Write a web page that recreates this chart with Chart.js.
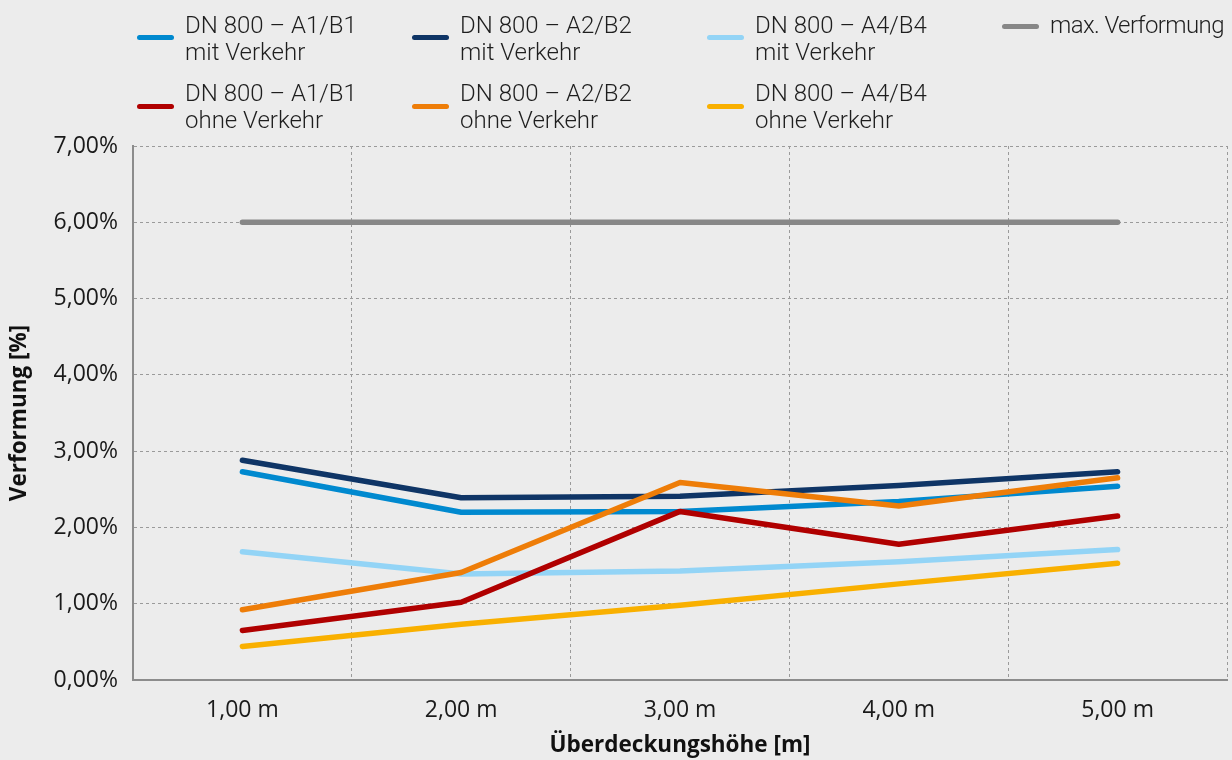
<!DOCTYPE html>
<html lang="de">
<head>
<meta charset="utf-8">
<title>Verformung DN 800</title>
<script src="https://cdn.jsdelivr.net/npm/chart.js@4.4.1/dist/chart.umd.min.js"></script>
<style>
  html, body { margin: 0; padding: 0; background: #ececec; }
  #wrap { position: relative; width: 1232px; height: 760px; overflow: hidden; background: #ececec; }
  #chart { position: absolute; left: 0; top: 0; }
  .lg-item { position: absolute; font-family: Roboto, "Noto Sans", sans-serif; font-weight: 300;
             font-size: 24px; line-height: 27px; color: #1e1e1e; white-space: nowrap; }
  .lg-item.tight { letter-spacing: -0.6px; }
  .lg-swatch { position: absolute; height: 5px; width: 37px; border-radius: 3px; }
</style>
</head>
<body>
<div id="wrap">
  <canvas id="chart" width="1232" height="760"></canvas>
  <div id="legend"></div>
</div>
<script>
// Überdeckungshöhe (x axis categories)
const categories = ['1,00 m', '2,00 m', '3,00 m', '4,00 m', '5,00 m'];

// Verformung in % per series
const a1b1Mit  = [2.73, 2.20, 2.21, 2.34, 2.54];
const a2b2Mit  = [2.88, 2.39, 2.41, 2.55, 2.73];
const a4b4Mit  = [1.68, 1.39, 1.43, 1.55, 1.71];
const maxVerf  = [6.00, 6.00, 6.00, 6.00, 6.00];
const a1b1Ohne = [0.65, 1.02, 2.21, 1.78, 2.15];
const a2b2Ohne = [0.92, 1.41, 2.59, 2.28, 2.65];
const a4b4Ohne = [0.44, 0.73, 0.98, 1.26, 1.53];

const seriesLabels = [
  'DN 800 – A1/B1\nmit Verkehr',
  'DN 800 – A2/B2\nmit Verkehr',
  'DN 800 – A4/B4\nmit Verkehr',
  'max. Verformung',
  'DN 800 – A1/B1\nohne Verkehr',
  'DN 800 – A2/B2\nohne Verkehr',
  'DN 800 – A4/B4\nohne Verkehr'
];
const seriesData = [a1b1Mit, a2b2Mit, a4b4Mit, maxVerf, a1b1Ohne, a2b2Ohne, a4b4Ohne];
const seriesColors = ['#0089cf', '#0f3566', '#93d4f6', '#878787', '#b00000', '#ee7d08', '#f9b000'];

// y axis tick values (percent)
const yTicks = [0, 1, 2, 3, 4, 5, 6, 7];

// legend slots: swatch left x, swatch centre y, text top y
const legendSlots = [
  [137, 37, 12], [412, 37, 12], [707, 37, 12], [1002, 26, 12],
  [137, 106, 80], [412, 106, 80], [707, 106, 80]
];

const datasets = seriesData.map((d, i) => ({
  label: seriesLabels[i],
  data: d,
  borderColor: seriesColors[i],
  backgroundColor: seriesColors[i],
  borderWidth: 5.5,
  borderCapStyle: 'round',
  borderJoinStyle: 'round',
  pointRadius: 0,
  pointHoverRadius: 0,
  tension: 0,
  fill: false,
  order: seriesData.length - i
}));

const tickFont = { family: '"Open Sans", "Noto Sans", sans-serif', size: 23 };
const titleFont = { family: '"Open Sans", "Noto Sans", sans-serif', size: 22.5, weight: 'bold' };

function fmtPct(v) {
  return v.toFixed(2).replace('.', ',') + '%';
}

function build() {
  const ctx = document.getElementById('chart').getContext('2d');
  const chart = new Chart(ctx, {
    type: 'line',
    data: { labels: categories, datasets },
    options: {
      responsive: false,
      animation: false,
      devicePixelRatio: 1,
      layout: { padding: { top: 146, right: 5, left: 0, bottom: 0 } },
      plugins: {
        legend: { display: false },
        tooltip: { enabled: false }
      },
      scales: {
        x: {
          type: 'category',
          offset: true,
          grid: {
            offset: true,
            color: '#9a9a9a',
            lineWidth: 1,
            drawTicks: false
          },
          border: { display: true, color: '#8c8c8c', width: 2, dash: [3, 3] },
          ticks: { color: '#1a1a1a', font: tickFont, padding: 17, maxRotation: 0 },
          title: {
            display: true,
            text: 'Überdeckungshöhe [m]',
            color: '#111',
            font: titleFont,
            padding: { top: 0, bottom: 1 }
          },
          afterFit: s => { s.height = 80; }
        },
        y: {
          min: 0,
          max: 7,
          afterBuildTicks: s => { s.ticks = yTicks.map(v => ({ value: v })); },
          grid: { color: '#9a9a9a', lineWidth: 1, drawTicks: false },
          border: { display: true, color: '#8c8c8c', width: 2, dash: [3, 3] },
          ticks: { color: '#1a1a1a', font: tickFont, padding: 15, callback: v => fmtPct(v) },
          title: {
            display: true,
            text: 'Verformung [%]',
            color: '#111',
            font: titleFont,
            padding: { top: 6, bottom: 0 }
          },
          afterFit: s => { s.width = 133; }
        }
      }
    }
  });

  // HTML legend generated from the chart's datasets
  const legend = document.getElementById('legend');
  chart.data.datasets.forEach((ds, i) => {
    const [sx, sy, ty] = legendSlots[i];
    const sw = document.createElement('div');
    sw.className = 'lg-swatch';
    sw.style.left = sx + 'px';
    sw.style.top = (sy - 2.5) + 'px';
    sw.style.background = ds.borderColor;
    legend.appendChild(sw);
    const tx = document.createElement('div');
    const lines = ds.label.split('\n');
    tx.className = lines.length === 1 ? 'lg-item tight' : 'lg-item';
    tx.style.left = (sx + 48) + 'px';
    tx.style.top = ty + 'px';
    lines.forEach((line, k) => {
      if (k) tx.appendChild(document.createElement('br'));
      tx.appendChild(document.createTextNode(line));
    });
    legend.appendChild(tx);
  });
}

if (document.fonts && document.fonts.load) {
  Promise.all([
    document.fonts.load('23px "Open Sans"'),
    document.fonts.load('bold 22.5px "Open Sans"'),
    document.fonts.load('300 24px Roboto')
  ]).then(build, build);
} else {
  build();
}
</script>
</body>
</html>
